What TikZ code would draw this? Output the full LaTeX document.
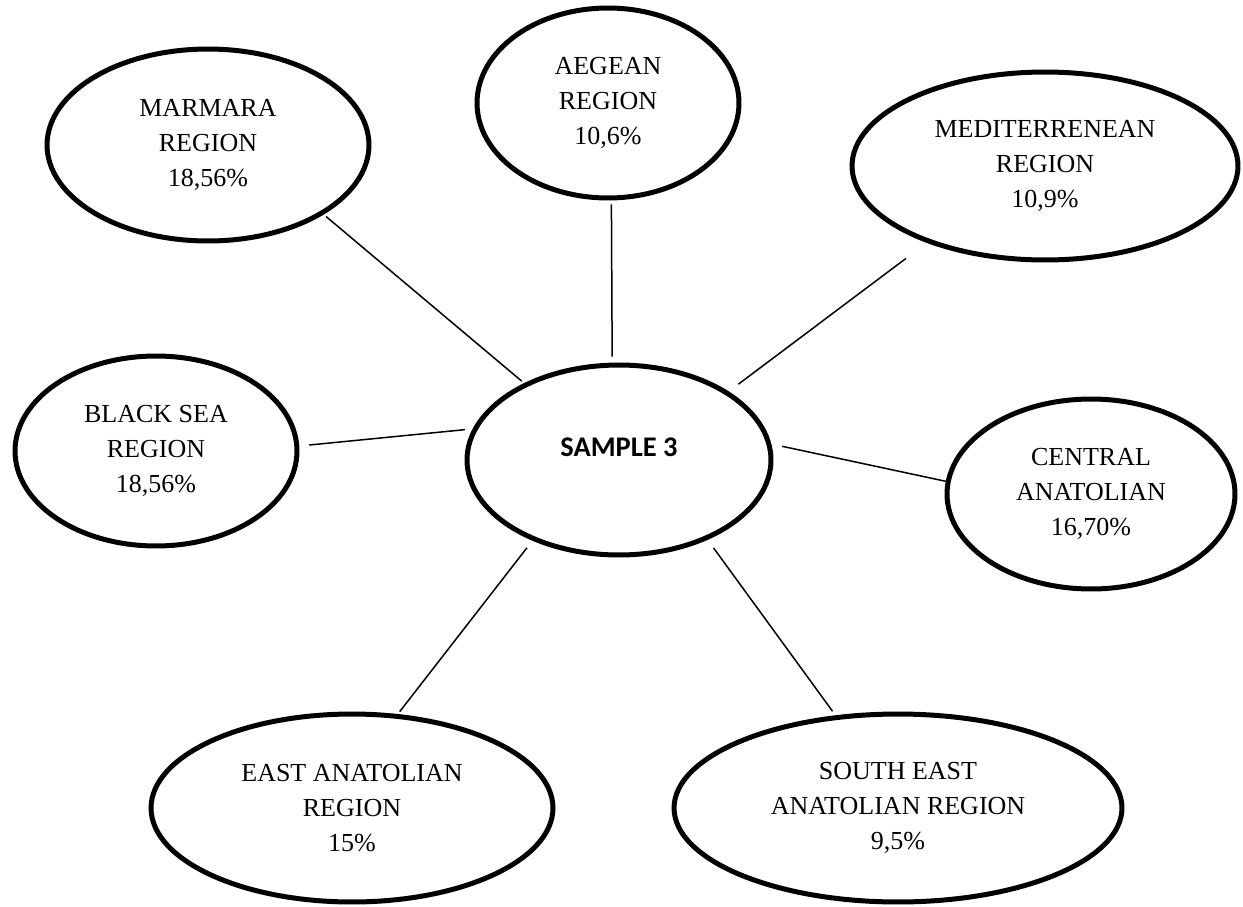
\documentclass[tikz,border=0pt]{standalone}
\usepackage{fontspec}
\setmainfont{Liberation Serif}
\newfontfamily\samplefont{Carlito}
\usetikzlibrary{shapes.geometric}

\begin{document}
\begin{tikzpicture}[x=0.02cm, y=-0.02cm,
    regbox/.style={ellipse, draw, line width=0.1cm, inner sep=0pt, align=center,
      font=\fontsize{14.8}{19.9}\selectfont},
    link/.style={line width=0.03cm}]
  \useasboundingbox (0,0) rectangle (1243,906);

  % Centre
  \node[regbox, minimum width=6.08cm, minimum height=3.8cm,
        font=\samplefont\bfseries\fontsize{16.2}{19}\selectfont,
        text height=0.4cm, text depth=0.56cm] (sample) at (619,460) {SAMPLE 3};

  % Regions
  \node[regbox, minimum width=6.44cm, minimum height=3.84cm] (marmara) at (208,145) {MARMARA\\REGION\\18,56\%};
  \node[regbox, minimum width=5.24cm, minimum height=3.8cm] (aegean) at (608,103) {AEGEAN\\REGION\\10,6\%};
  \node[regbox, minimum width=7.72cm, minimum height=3.76cm] (med) at (1045,166) {MEDITERRENEAN\\REGION\\10,9\%};
  \node[regbox, minimum width=5.64cm, minimum height=3.8cm] (blacksea) at (156,451) {BLACK SEA\\REGION\\18,56\%};
  \node[regbox, minimum width=5.76cm, minimum height=3.8cm] (central) at (1091,494) {CENTRAL\\ANATOLIAN\\16,70\%};
  \node[regbox, minimum width=8.04cm, minimum height=3.76cm] (east) at (352,808) {EAST ANATOLIAN\\REGION\\15\%};
  \node[regbox, minimum width=8.96cm, minimum height=3.76cm] (southeast) at (898,808) {SOUTH EAST\\ANATOLIAN REGION\\9,5\%};

  % Links
  \draw[link, shorten <=0.06cm, shorten >=0.06cm] (marmara.-31) -- (sample.141);
  \draw[link, shorten <=0.08cm, shorten >=0.12cm] (aegean.-88) -- (sample.94);
  \draw[link, shorten <=0.52cm, shorten >=0.24cm] (med.-147) -- (sample.32);
  \draw[link, shorten <=0.2cm, shorten >=0.15cm] (blacksea.2) -- (sample.168);
  \draw[link, shorten <=0.22cm] (sample.6) -- (central.175);
  \draw[link, shorten <=0.18cm, shorten >=0.06cm] (sample.223) -- (east.64);
  \draw[link, shorten <=0.2cm, shorten >=0.1cm] (sample.-42) -- (southeast.124);
\end{tikzpicture}
\end{document}
